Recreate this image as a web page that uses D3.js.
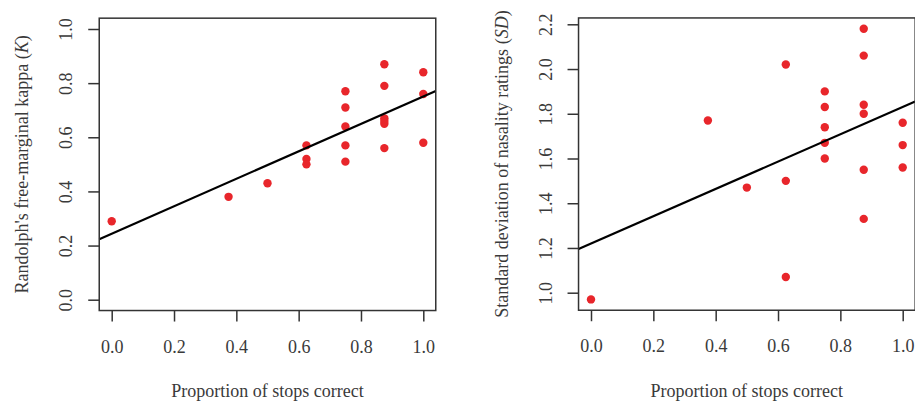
<!DOCTYPE html>
<html>
<head>
  <meta charset="utf-8">
  <title>Stops correct vs kappa and SD</title>
  <script src="https://d3js.org/d3.v7.min.js"></script>
  <style>
    body { margin: 0; background: #fff; }
  </style>
</head>
<body>
  <div id="chart"></div>

  <script>
    // proportion of stops correct (shared x values)
    var propLeft  = [0, 0.375, 0.5, 0.625, 0.625, 0.625, 0.75, 0.75, 0.75, 0.75, 0.75,
                     0.875, 0.875, 0.875, 0.875, 0.875, 0.875, 1, 1, 1];
    var kappa     = [0.29, 0.38, 0.43, 0.57, 0.52, 0.50, 0.77, 0.71, 0.64, 0.57, 0.51,
                     0.87, 0.79, 0.67, 0.65, 0.66, 0.56, 0.84, 0.76, 0.58];

    var propRight = [0, 0.375, 0.5, 0.625, 0.625, 0.625, 0.75, 0.75, 0.75, 0.75, 0.75,
                     0.875, 0.875, 0.875, 0.875, 0.875, 0.875, 1, 1, 1];
    var sdRatings = [0.97, 1.77, 1.47, 2.02, 1.50, 1.07, 1.90, 1.83, 1.74, 1.67, 1.60,
                     2.18, 2.06, 1.84, 1.80, 1.55, 1.33, 1.76, 1.66, 1.56];

    // fitted lines: [intercept, slope]
    var fitKappa = [0.244, 0.507];
    var fitSD    = [1.22, 0.61];

    var xTicks     = [0, 0.2, 0.4, 0.6, 0.8, 1.0];
    var kappaTicks = [0, 0.2, 0.4, 0.6, 0.8, 1.0];
    var sdTicks    = [1.0, 1.2, 1.4, 1.6, 1.8, 2.0, 2.2];

    var xTitle = "Proportion of stops correct";

    var FONT = "'Liberation Serif', 'Times New Roman', serif";
    var INK = "#3a3a3a";

    var svg = d3.select("#chart")
                .append("svg")
                .attr("width", 915)
                .attr("height", 402);

    function serif(sel) {
      return sel.style("font-family", FONT).style("font-size", "18px").attr("fill", INK);
    }

    function panel(opt) {
      var x = d3.scaleLinear().domain([0, 1]).range(opt.xRange);
      var y = d3.scaleLinear().domain(opt.yDomain).range(opt.yRange);
      var xd = [-0.04, 1.04];
      var ext = (opt.yLim[1] - opt.yLim[0]) * 0.04;
      var yl = [opt.yLim[0] - ext, opt.yLim[1] + ext];

      var g = svg.append("g");

      // data points
      g.selectAll(".pt")
       .data(d3.zip(opt.xs, opt.ys))
       .enter().append("circle")
       .attr("class", "pt")
       .attr("cx", d => x(d[0]))
       .attr("cy", d => y(d[1]))
       .attr("r", 4.2)
       .attr("fill", "#e8262b");

      // regression line across the box
      g.append("line")
       .attr("x1", x(xd[0])).attr("y1", y(opt.fit[0] + opt.fit[1] * xd[0]))
       .attr("x2", x(xd[1])).attr("y2", y(opt.fit[0] + opt.fit[1] * xd[1]))
       .attr("stroke", "#000")
       .attr("stroke-width", 2.2);

      // box
      g.append("rect")
       .attr("x", x(xd[0]))
       .attr("y", y(yl[1]))
       .attr("width", x(xd[1]) - x(xd[0]))
       .attr("height", y(yl[0]) - y(yl[1]))
       .attr("fill", "none")
       .attr("stroke", "#333")
       .attr("stroke-width", 1.5);

      // x axis
      var xAxis = g.append("g")
       .attr("transform", "translate(0," + y(yl[0]) + ")")
       .call(d3.axisBottom(x).tickValues(xTicks).tickSize(11).tickSizeOuter(0)
              .tickFormat(d3.format(".1f")));
      xAxis.select(".domain").remove();
      xAxis.selectAll("line").attr("stroke", "#333").attr("stroke-width", 1.5);
      serif(xAxis.selectAll("text").attr("y", 42).attr("dy", null));

      // y axis, labels rotated like R's default
      var yAxis = g.append("g")
       .attr("transform", "translate(" + x(xd[0]) + ",0)")
       .call(d3.axisLeft(y).tickValues(opt.yTicks).tickSize(11).tickSizeOuter(0)
              .tickFormat(d3.format(".1f")));
      yAxis.select(".domain").remove();
      yAxis.selectAll("line").attr("stroke", "#333").attr("stroke-width", 1.5);
      serif(yAxis.selectAll("text")
           .attr("x", null).attr("dy", null)
           .attr("text-anchor", "middle")
           .attr("transform", "translate(" + (opt.yLabX - x(xd[0])) + ",0) rotate(-90)"));

      // x title
      serif(g.append("text")
       .attr("x", (x(xd[0]) + x(xd[1])) / 2)
       .attr("y", 397)
       .attr("text-anchor", "middle")
       .text(xTitle));

      // y title
      var mid = (y(yl[0]) + y(yl[1])) / 2;
      var yt = serif(g.append("text")
       .attr("transform", "translate(" + opt.yTitleX + "," + mid + ") rotate(-90)")
       .attr("text-anchor", "middle"));
      yt.append("tspan").text(opt.yTitle[0]);
      yt.append("tspan").style("font-style", "italic").text(opt.yTitle[1]);
      yt.append("tspan").text(opt.yTitle[2]);
    }

    panel({
      xs: propLeft, ys: kappa, fit: fitKappa,
      xRange: [111.7, 423.3], yDomain: [0, 1], yRange: [299.7, 29],
      yLim: [0, 1], yTicks: kappaTicks, yLabX: 71.5, yTitleX: 28,
      yTitle: ["Randolph's free-marginal kappa (", "K", ")"]
    });

    panel({
      xs: propRight, ys: sdRatings, fit: fitSD,
      xRange: [591, 902.7], yDomain: [1.0, 2.2], yRange: [292.7, 24.3],
      yLim: [0.97, 2.18], yTicks: sdTicks, yLabX: 552, yTitleX: 507.5,
      yTitle: ["Standard deviation of nasality ratings (", "SD", ")"]
    });
  </script>
</body>
</html>
